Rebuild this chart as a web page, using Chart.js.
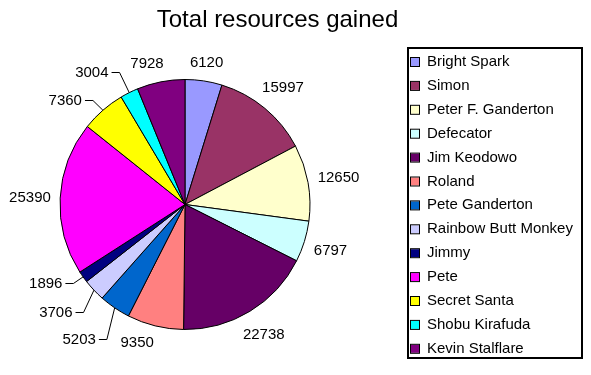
<!DOCTYPE html>
<html>
<head>
<meta charset="utf-8">
<script src="https://cdn.jsdelivr.net/npm/chart.js@4/dist/chart.umd.min.js"></script>
<style>
  html, body { margin: 0; padding: 0; background: #fff; }
  #wrap { width: 591px; height: 375px; position: relative; }
</style>
</head>
<body>
<div id="wrap"><canvas id="c" width="591" height="375"></canvas></div>
<script>
// ---- data ----
const categories = ["Bright Spark", "Simon", "Peter F. Ganderton", "Defecator", "Jim Keodowo", "Roland",
  "Pete Ganderton", "Rainbow Butt Monkey", "Jimmy", "Pete", "Secret Santa", "Shobu Kirafuda", "Kevin Stalflare"];
const resources = [6120, 15997, 12650, 6797, 22738, 9350, 5203, 3706, 1896, 25390, 7360, 3004, 7928];
const sliceColors = ["#9999FF", "#993366", "#FFFFCC", "#CCFFFF", "#660066", "#FF8080",
  "#0066CC", "#CCCCFF", "#000080", "#FF00FF", "#FFFF00", "#00FFFF", "#800080"];
const chartTitle = "Total resources gained";

// label nudges for crowded labels: [angle shift (deg), distance beyond pie edge (px), leader line]
const labelNudges = {
  5: [5.4, 20.6, false],
  6: [4.0, 46, true],
  7: [3.5, 43, true],
  8: [5.9, 35, true],
  10: [-7.8, 34, true],
  11: [-8.6, 37, true],
  12: [-3.9, 21.5, false]
};

const FONT = '"Liberation Sans", Arial, sans-serif';

const labelPlugin = {
  id: 'sliceLabels',
  afterDatasetsDraw(chart) {
    const ctx = chart.ctx;
    const meta = chart.getDatasetMeta(0);
    ctx.save();
    ctx.font = '15px ' + FONT;
    ctx.fillStyle = '#000';
    ctx.strokeStyle = '#000';
    ctx.lineWidth = 1;
    ctx.textAlign = 'center';
    ctx.textBaseline = 'middle';
    meta.data.forEach((arc, i) => {
      const p = arc.getProps(['x', 'y', 'startAngle', 'endAngle', 'outerRadius'], true);
      const mid = (p.startAngle + p.endAngle) / 2;
      const text = String(chart.data.datasets[0].data[i]);
      const w = ctx.measureText(text).width;
      const h = 16;
      let cx, cy;
      const nudge = labelNudges[i];
      if (nudge) {
        const a = mid + nudge[0] * Math.PI / 180;
        const r = p.outerRadius + nudge[1];
        cx = p.x + r * Math.cos(a);
        cy = p.y + r * Math.sin(a);
      } else {
        const r = p.outerRadius + 9 + (w / 2) * Math.abs(Math.cos(mid)) + (h / 2) * Math.abs(Math.sin(mid));
        cx = p.x + r * Math.cos(mid);
        cy = p.y + r * Math.sin(mid);
      }
      ctx.fillText(text, cx, cy + 1);
      if (nudge && nudge[2]) {
        const ex = p.x + p.outerRadius * Math.cos(mid);
        const ey = p.y + p.outerRadius * Math.sin(mid);
        const sx = cx + w / 2 + 3;
        ctx.beginPath();
        ctx.moveTo(sx, Math.round(cy) + 0.5);
        ctx.lineTo(sx + 8, Math.round(cy) + 0.5);
        ctx.lineTo(ex, ey);
        ctx.stroke();
      }
    });
    ctx.restore();
  }
};

const titleLegendPlugin = {
  id: 'titleLegend',
  afterDraw(chart) {
    const ctx = chart.ctx;
    ctx.save();
    // title
    ctx.font = '24px ' + FONT;
    ctx.fillStyle = '#000';
    ctx.textAlign = 'center';
    ctx.textBaseline = 'alphabetic';
    ctx.fillText(chartTitle, 277.5, 27);
    // legend box
    ctx.lineWidth = 2;
    ctx.strokeStyle = '#000';
    ctx.strokeRect(408, 48, 174, 310);
    ctx.font = '15px ' + FONT;
    ctx.textAlign = 'left';
    const labels = chart.data.labels;
    const colors = chart.data.datasets[0].backgroundColor;
    labels.forEach((lab, i) => {
      const base = 66 + i * 23.9;
      ctx.fillStyle = colors[i];
      ctx.fillRect(411, base - 8, 8, 8);
      ctx.lineWidth = 1;
      ctx.strokeRect(410.5, base - 8.5, 9, 9);
      ctx.fillStyle = '#000';
      ctx.fillText(lab, 427, base);
    });
    ctx.restore();
  }
};

new Chart(document.getElementById('c'), {
  type: 'pie',
  data: {
    labels: categories,
    datasets: [{
      data: resources,
      backgroundColor: sliceColors,
      borderColor: '#000',
      borderWidth: 1
    }]
  },
  options: {
    responsive: false,
    animation: false,
    layout: { padding: { left: 59.5, right: 280.5, top: 79, bottom: 45 } },
    plugins: {
      legend: { display: false },
      title: { display: false },
      tooltip: { enabled: false }
    }
  },
  plugins: [labelPlugin, titleLegendPlugin]
});
</script>
</body>
</html>
